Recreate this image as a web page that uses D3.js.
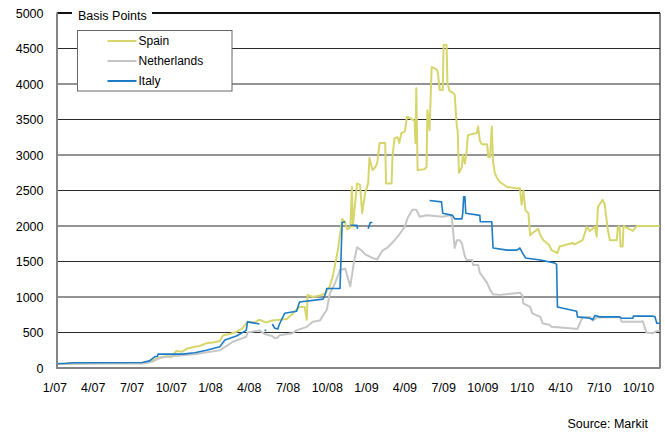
<!DOCTYPE html>
<html>
<head>
<meta charset="utf-8">
<script src="https://cdn.jsdelivr.net/npm/d3@7"></script>
<style>
  html, body { margin: 0; padding: 0; background: #fff; }
  svg { display: block; font-family: "Liberation Sans", Arial, sans-serif; }
</style>
</head>
<body>
<svg id="chart" width="665" height="433"></svg>
<script>
// ---------- DATA ----------
const xTickDates = ["2007-01-01","2007-04-01","2007-07-01","2007-10-01","2008-01-01","2008-04-01","2008-07-01","2008-10-01","2009-01-01","2009-04-01","2009-07-01","2009-10-01","2010-01-01","2010-04-01","2010-07-01","2010-10-01"];
const xTickLabels = ["1/07","4/07","7/07","10/07","1/08","4/08","7/08","10/08","1/09","4/09","7/09","10/09","1/10","4/10","7/10","10/10"];
const yTicks = [0,500,1000,1500,2000,2500,3000,3500,4000,4500,5000];
const seriesNames = ["Spain","Netherlands","Italy"];
const seriesColors = ["#d6d66c","#c6c6c6","#1c7cc6"];

const spain = [
["2007-01-07",55],["2007-02-01",60],["2007-04-16",68],["2007-07-26",68],["2007-08-12",85],
["2007-08-31",140],["2007-09-21",165],["2007-09-28",160],["2007-10-01",150],["2007-10-05",170],
["2007-10-14",240],["2007-10-28",230],["2007-11-07",270],["2007-11-26",300],["2007-12-08",310],
["2007-12-24",350],["2008-01-08",360],["2008-01-24",380],["2008-02-01",460],["2008-02-17",480],
["2008-03-03",510],["2008-03-17",560],["2008-03-29",650],["2008-04-15",640],["2008-04-26",680],
["2008-05-12",640],["2008-05-26",670],["2008-06-12",680],["2008-06-29",690],["2008-07-12",760],
["2008-07-22",820],["2008-07-29",860],["2008-08-10",860],["2008-08-15",680],["2008-08-17",1030],
["2008-08-29",1000],["2008-09-15",1020],["2008-09-27",1050],["2008-10-08",1150],["2008-10-15",1290],
["2008-10-27",1660],["2008-11-06",2100],["2008-11-13",2050],["2008-11-18",1950],["2008-11-25",1980],
["2008-11-29",2550],["2008-12-01",1990],["2008-12-11",2600],["2008-12-18",2580],["2008-12-23",2180],
["2008-12-30",2470],["2009-01-06",2600],["2009-01-09",2960],["2009-01-16",2790],["2009-01-23",2830],
["2009-01-27",2880],["2009-02-02",3170],["2009-02-15",3170],["2009-02-17",2600],["2009-03-02",2600],
["2009-03-04",2970],["2009-03-09",3240],["2009-03-16",3250],["2009-03-20",3170],["2009-03-25",3310],
["2009-04-02",3330],["2009-04-07",3540],["2009-04-20",3500],["2009-04-25",3480],["2009-04-27",3170],
["2009-04-29",3940],["2009-05-02",2790],["2009-05-18",2800],["2009-05-23",2830],["2009-05-25",3630],
["2009-05-30",3350],["2009-06-04",4240],["2009-06-11",4220],["2009-06-16",4200],["2009-06-18",4180],
["2009-06-23",3915],["2009-06-30",3915],["2009-07-02",4550],["2009-07-09",4550],["2009-07-11",4010],
["2009-07-16",3900],["2009-07-23",3880],["2009-07-28",3850],["2009-08-02",3400],["2009-08-04",3350],
["2009-08-07",2750],["2009-08-14",2830],["2009-08-16",3000],["2009-08-21",2880],["2009-08-25",3050],
["2009-08-28",3280],["2009-09-18",3310],["2009-09-21",3400],["2009-09-25",3200],["2009-09-30",3150],
["2009-10-12",3150],["2009-10-15",2970],["2009-10-19",2970],["2009-10-23",3400],["2009-10-26",2900],
["2009-10-30",2750],["2009-11-04",2680],["2009-11-11",2620],["2009-11-28",2550],["2009-12-21",2530],
["2009-12-28",2530],["2010-01-01",2300],["2010-01-05",2500],["2010-01-10",2220],["2010-01-17",2180],
["2010-01-21",1870],["2010-01-26",1900],["2010-02-09",1960],["2010-02-14",1870],["2010-02-21",1800],
["2010-03-07",1730],["2010-03-12",1660],["2010-03-26",1620],["2010-03-31",1710],["2010-05-01",1760],
["2010-05-05",1740],["2010-05-24",1800],["2010-06-03",1990],["2010-06-10",1930],["2010-06-22",1990],
["2010-06-26",1850],["2010-06-29",2270],["2010-07-10",2370],["2010-07-15",2300],["2010-07-22",1950],
["2010-07-27",1800],["2010-08-12",1800],["2010-08-15",1990],["2010-08-19",1990],["2010-08-21",1710],
["2010-08-26",1710],["2010-08-28",2000],["2010-09-19",1930],["2010-09-28",2000],["2010-11-21",2000]
];

const netherlands = [
["2007-01-07",55],["2007-04-16",65],["2007-07-26",65],["2007-08-05",70],["2007-08-19",90],
["2007-09-05",140],["2007-09-21",160],["2007-10-28",180],["2007-11-26",195],["2007-12-24",220],
["2008-01-24",250],["2008-02-01",280],["2008-02-24",370],["2008-03-17",420],["2008-03-26",440],
["2008-03-29",500],["2008-04-26",530],["2008-05-08",480],["2008-05-26",450],["2008-06-01",420],
["2008-06-08",430],["2008-06-12",460],["2008-07-12",490],["2008-07-22",530],["2008-08-15",580],
["2008-08-29",650],["2008-09-15",670],["2008-09-20",720],["2008-10-01",820],["2008-10-08",1050],
["2008-10-20",1190],["2008-11-01",1380],["2008-11-13",1400],["2008-11-18",1300],["2008-11-25",1150],
["2008-12-04",1500],["2008-12-11",1700],["2008-12-23",1650],["2008-12-30",1600],["2009-01-16",1550],
["2009-01-27",1530],["2009-02-08",1650],["2009-02-21",1700],["2009-03-09",1800],["2009-03-20",1880],
["2009-04-02",1990],["2009-04-09",2120],["2009-04-20",2230],["2009-04-29",2230],["2009-05-07",2130],
["2009-05-23",2150],["2009-06-30",2130],["2009-07-16",2150],["2009-07-21",2130],["2009-07-23",2010],
["2009-07-28",1690],["2009-08-02",1800],["2009-08-09",1800],["2009-08-14",1750],["2009-08-21",1570],
["2009-08-25",1520],["2009-09-07",1520],["2009-09-09",1450],["2009-09-21",1450],["2009-09-25",1340],
["2009-09-30",1300],["2009-10-12",1200],["2009-10-19",1100],["2009-10-26",1040],["2009-11-11",1030],
["2009-12-28",1060],["2010-01-03",1020],["2010-01-05",910],["2010-01-21",860],["2010-01-26",770],
["2010-02-14",720],["2010-02-19",630],["2010-03-07",610],["2010-03-12",580],["2010-04-24",560],
["2010-05-12",550],["2010-05-17",620],["2010-05-24",720],["2010-06-10",720],["2010-06-17",670],
["2010-06-26",710],["2010-08-19",720],["2010-08-24",650],["2010-10-05",650],["2010-10-12",660],
["2010-10-21",500],["2010-11-05",490],["2010-11-14",520],["2010-11-21",520]
];

const italy = [
["2007-01-07",60],["2007-01-30",66],["2007-02-15",75],["2007-07-26",78],["2007-08-12",100],
["2007-08-25",160],["2007-08-31",165],["2007-09-01",195],["2007-10-28",195],["2007-11-26",215],
["2007-12-24",250],["2008-01-24",300],["2008-02-05",394],["2008-03-03",450],["2008-03-26",530],
["2008-03-29",650],["2008-04-26",620],["2008-05-01",null],["2008-05-08",530],["2008-05-12",530],
["2008-05-19",null],["2008-05-26",620],["2008-06-01",560],["2008-06-08",550],["2008-06-12",620],
["2008-06-24",770],["2008-07-22",800],["2008-07-29",930],["2008-09-22",970],["2008-09-27",1030],
["2008-10-01",1120],["2008-11-01",1120],["2008-11-06",2050],["2008-11-13",2060],["2008-11-18",null],
["2008-11-25",2010],["2008-12-11",2010],["2008-12-12",1960],["2008-12-13",null],["2009-01-06",1960],
["2009-01-11",2050],["2009-01-16",2050],["2009-01-17",null],["2009-05-30",2360],["2009-06-27",2340],
["2009-06-30",2180],["2009-07-23",2150],["2009-07-28",2100],["2009-08-14",2100],["2009-08-16",2180],
["2009-08-18",2410],["2009-08-21",2410],["2009-08-23",2180],["2009-09-25",2150],["2009-09-26",2060],
["2009-10-23",2060],["2009-10-26",1690],["2009-11-28",1660],["2009-12-21",1660],["2009-12-28",1690],
["2010-01-03",1620],["2010-01-10",1550],["2010-02-14",1520],["2010-03-19",1480],["2010-03-24",1460],
["2010-03-26",860],["2010-05-10",800],["2010-05-12",720],["2010-06-10",700],["2010-06-17",680],
["2010-06-22",740],["2010-07-03",720],["2010-08-19",720],["2010-08-24",700],["2010-09-19",700],
["2010-09-20",730],["2010-11-05",730],["2010-11-10",720],["2010-11-14",630],["2010-11-21",630]
];

// ---------- CHART ----------
const parse = d3.timeParse("%Y-%m-%d");
const svg = d3.select("#chart");
const plot = { left: 57, right: 660, top: 13, bottom: 368 };

const x = d3.scaleTime()
  .domain([parse(xTickDates[0]), parse(xTickDates[xTickDates.length - 1])])
  .range([54.4, 638]);
const y = d3.scaleLinear().domain([0, 5000]).range([plot.bottom, plot.top]);

// gridlines
svg.append("g").selectAll("line")
  .data(yTicks.filter(v => v > 0))
  .join("line")
  .attr("x1", plot.left).attr("x2", plot.right)
  .attr("y1", d => y(d)).attr("y2", d => y(d))
  .attr("stroke", d => d === 5000 ? "#111" : "#2a2a2a")
  .attr("stroke-width", d => d === 5000 ? 1.8 : 1.2);

// right border
svg.append("line")
  .attr("x1", plot.right).attr("x2", plot.right)
  .attr("y1", plot.top).attr("y2", plot.bottom)
  .attr("stroke", "#333").attr("stroke-width", 1.2);

// y axis labels
const yAxis = d3.axisLeft(y).tickValues(yTicks).tickSize(0).tickPadding(13.5).tickFormat(d3.format("d"));
const gy = svg.append("g").attr("transform", `translate(${plot.left},0)`).call(yAxis);
gy.select(".domain").remove();
gy.selectAll("text").attr("font-size", "12.5px").attr("fill", "#000")
  .attr("font-family", "Liberation Sans, Arial, sans-serif");

// x axis labels
const xAxis = d3.axisBottom(x)
  .tickValues(xTickDates.map(parse))
  .tickSize(0).tickPadding(0)
  .tickFormat((d, i) => xTickLabels[i]);
const gx = svg.append("g").attr("transform", `translate(0,${plot.bottom})`).call(xAxis);
gx.select(".domain").remove();
gx.selectAll("text").attr("font-size", "12.5px").attr("fill", "#000")
  .attr("font-family", "Liberation Sans, Arial, sans-serif")
  .attr("dy", null).attr("y", 24);

// clip
svg.append("clipPath").attr("id", "clip").append("rect")
  .attr("x", plot.left).attr("y", plot.top - 5)
  .attr("width", plot.right - plot.left).attr("height", plot.bottom - plot.top + 5);

const line = d3.line()
  .defined(d => d[1] !== null)
  .x(d => x(parse(d[0])))
  .y(d => y(d[1]));

const allSeries = [spain, netherlands, italy];
const widths = [2, 2, 1.6];
const gLines = svg.append("g").attr("clip-path", "url(#clip)");
allSeries.forEach((s, i) => {
  gLines.append("path")
    .datum(s)
    .attr("d", line)
    .attr("fill", "none")
    .attr("stroke", seriesColors[i])
    .attr("stroke-width", widths[i])
    .attr("stroke-linejoin", "round");
});

// axes lines (left and bottom, gray)
svg.append("line")
  .attr("x1", plot.left).attr("x2", plot.left)
  .attr("y1", plot.top - 0.5).attr("y2", plot.bottom + 1)
  .attr("stroke", "#858585").attr("stroke-width", 2);
svg.append("line")
  .attr("x1", plot.left - 1).attr("x2", plot.right + 0.5)
  .attr("y1", plot.bottom).attr("y2", plot.bottom)
  .attr("stroke", "#858585").attr("stroke-width", 2);

// "Basis Points" title with white background
svg.append("rect").attr("x", 72).attr("y", 8).attr("width", 80).attr("height", 14).attr("fill", "#fff");
svg.append("text").attr("x", 78).attr("y", 19.8)
  .attr("font-size", "12.5px").attr("fill", "#000").text("Basis Points");

// legend
const lg = svg.append("g");
lg.append("rect").attr("x", 77.5).attr("y", 30.5).attr("width", 154.5).attr("height", 60.5)
  .attr("fill", "#fff").attr("stroke", "#666").attr("stroke-width", 1);
seriesNames.forEach((name, i) => {
  const ly = 41 + i * 20;
  lg.append("line").attr("x1", 107.5).attr("x2", 136.5).attr("y1", ly).attr("y2", ly)
    .attr("stroke", seriesColors[i]).attr("stroke-width", 2);
  lg.append("text").attr("x", 138.5).attr("y", ly + 4.3)
    .attr("font-size", "12px").attr("fill", "#000").text(name);
});

// source
svg.append("text").attr("x", 648).attr("y", 427.5).attr("text-anchor", "end")
  .attr("font-size", "12.5px").attr("fill", "#000").text("Source: Markit");
</script>
</body>
</html>
